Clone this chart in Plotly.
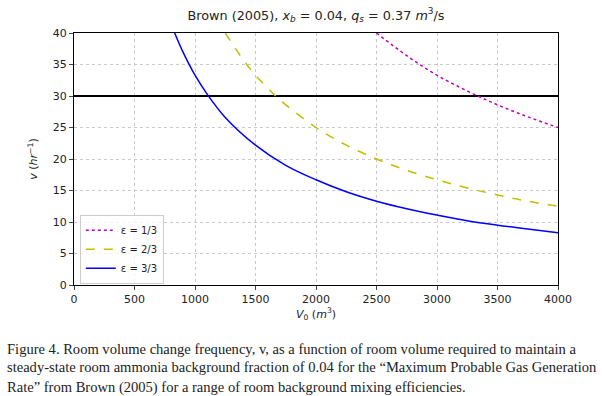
import plotly.graph_objects as go

# Values
vol_e1 = [2500, 2750, 3000, 3250, 3500, 3750, 4000]
nu_e1 = [40.0, 36.4, 33.3, 30.8, 28.6, 26.7, 25.0]

vol_e2 = [1250, 1400, 1500, 1667, 1750, 2000, 2250, 2500, 2750, 3000, 3250, 3500, 3750, 4000]
nu_e2 = [40.0, 35.7, 33.3, 30.0, 28.6, 25.0, 22.2, 20.0, 18.2, 16.7, 15.4, 14.3, 13.3, 12.5]

vol_e3 = [832, 900, 1000, 1100, 1250, 1500, 1750, 2000, 2250, 2500, 2750, 3000, 3250, 3500, 3750, 4000]
nu_e3 = [40.0, 37.0, 33.3, 30.3, 26.6, 22.2, 19.0, 16.7, 14.8, 13.3, 12.1, 11.1, 10.2, 9.5, 8.9, 8.3]

limit_x = [0, 4000]
limit_y = [30, 30]

x_ticks = [0, 500, 1000, 1500, 2000, 2500, 3000, 3500, 4000]
y_ticks = [0, 5, 10, 15, 20, 25, 30, 35, 40]

caption = [
    "Figure 4. Room volume change frequency, v, as a function of room volume required to maintain a",
    "steady-state room ammonia background fraction of 0.04 for the \u201cMaximum Probable Gas Generation",
    "Rate\u201d from Brown (2005) for a range of room background mixing efficiencies.",
]
caption_y = [-0.254, -0.325, -0.405]

fig = go.Figure()
fig.add_trace(go.Scatter(x=limit_x, y=limit_y, mode="lines", line=dict(color="black", width=2),
                         showlegend=False, hoverinfo="skip"))
fig.add_trace(go.Scatter(x=vol_e1, y=nu_e1, mode="lines", name="\u03b5 = 1/3",
                         line=dict(color="#bf00bf", width=1.5, dash="dot", shape="spline")))
fig.add_trace(go.Scatter(x=vol_e2, y=nu_e2, mode="lines", name="\u03b5 = 2/3",
                         line=dict(color="#bfbf00", width=1.5, dash="dash", shape="spline")))
fig.add_trace(go.Scatter(x=vol_e3, y=nu_e3, mode="lines", name="\u03b5 = 3/3",
                         line=dict(color="#0000ff", width=1.5, shape="spline")))

font_family = "DejaVu Sans"
fig.update_layout(
    width=602, height=396,
    margin=dict(l=74, r=44, t=33, b=111),
    paper_bgcolor="white", plot_bgcolor="white",
    font=dict(family=font_family, size=11, color="#222"),
    title=dict(text="Brown (2005), <i>x<sub>b</sub></i> = 0.04, <i>q<sub>s</sub></i> = 0.37 <i>m</i><sup>3</sup>/s",
               x=0.5, xref="paper", xanchor="center", y=0.962, yanchor="middle",
               font=dict(size=12.8, color="#222")),
    showlegend=True,
    legend=dict(x=0.012, y=0.005, xanchor="left", yanchor="bottom",
                bgcolor="rgba(255,255,255,0.8)", bordercolor="#ccc", borderwidth=1,
                font=dict(size=10), tracegroupgap=0, itemwidth=30),
)
fig.update_xaxes(range=[0, 4000], tickvals=x_ticks, ticks="outside", ticklen=4,
                 showline=True, linecolor="black", linewidth=1, mirror=True,
                 showgrid=True, gridcolor="#c8c8c8", griddash="dot", gridwidth=1, zeroline=False,
                 title=dict(text="<i>V</i><sub>0</sub> (<i>m</i><sup>3</sup>)", standoff=0,
                            font=dict(size=11)))
fig.update_yaxes(range=[0, 40], tickvals=y_ticks, ticks="outside", ticklen=4,
                 showline=True, linecolor="black", linewidth=1, mirror=True,
                 showgrid=True, gridcolor="#c8c8c8", griddash="dot", gridwidth=1, zeroline=False,
                 title=dict(text="<i>v</i> (<i>hr</i><sup>\u22121</sup>)", standoff=12,
                            font=dict(size=11)))

for line, yy in zip(caption, caption_y):
    fig.add_annotation(text=line, xref="paper", yref="paper", x=-0.1426, xanchor="left",
                       y=yy, yanchor="middle", showarrow=False,
                       font=dict(family="Liberation Serif", size=14.55, color="#222"))

fig.write_html("out.html", config={"displayModeBar": False},
               post_script="document.body.style.margin='0';")
